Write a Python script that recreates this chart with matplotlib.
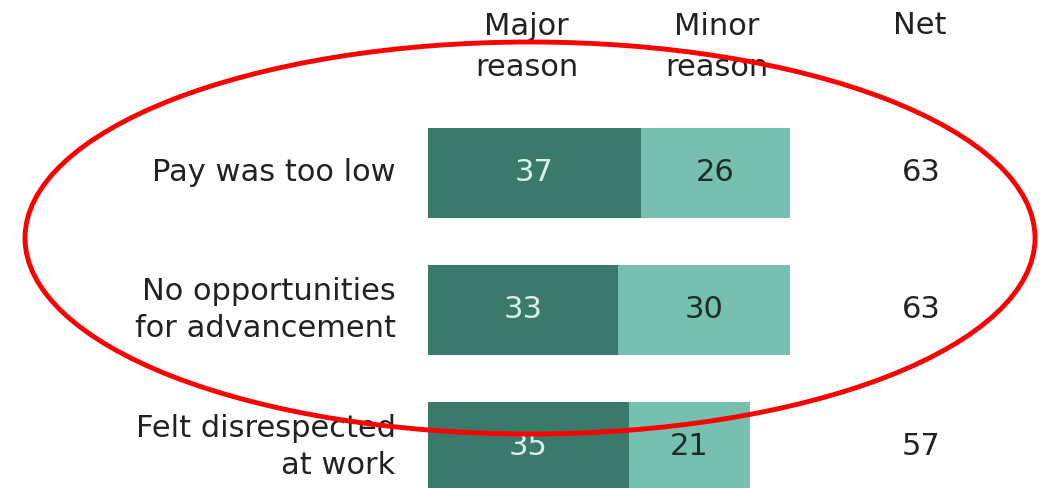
import matplotlib.pyplot as plt
from matplotlib.patches import Ellipse

# data
reasons = ["Pay was too low", "No opportunities\nfor advancement", "Felt disrespected\nat work"]
major = [37, 33, 35]
minor = [26, 30, 21]
net = [63, 63, 57]

DARK = "#3b7a6b"
LIGHT = "#77bfae"
FONT = "DejaVu Sans"
FS = 22

fig = plt.figure(figsize=(10.43, 4.88), dpi=100)
ax = fig.add_axes([0, 0, 1, 1])
ax.set_xlim(-74.4, 107.0)
ax.set_ylim(2.30, -1.263)
ax.axis("off")

ypos = list(range(len(reasons)))
ax.barh(ypos, major, height=0.66, color=DARK)
ax.barh(ypos, minor, left=major, height=0.66, color=LIGHT)

for i, (lab, a, b, n) in enumerate(zip(reasons, major, minor, net)):
    ax.text(a / 2, i, str(a), ha="center", va="center", fontsize=FS,
            color="#d8f2e8", family=FONT)
    ax.text(a + b / 2, i, str(b), ha="center", va="center", fontsize=FS,
            color="#1b2f29", family=FONT)
    ax.text(85.8, i, str(n), ha="center", va="center", fontsize=FS,
            color="#222222", family=FONT)
    ax.text(-5.6, i, lab, ha="right", va="center", fontsize=FS,
            color="#222222", family=FONT, linespacing=1.35)

ax.text(17.2, -0.92, "Major\nreason", ha="center", va="center", fontsize=FS,
        color="#222222", family=FONT, linespacing=1.5)
ax.text(50.3, -0.92, "Minor\nreason", ha="center", va="center", fontsize=FS,
        color="#222222", family=FONT, linespacing=1.5)
ax.text(85.6, -1.08, "Net", ha="center", va="center", fontsize=FS,
        color="#222222", family=FONT)

# red highlight ring
ring = Ellipse((530 / 1043, 1 - 238 / 488), 1010 / 1043, 392 / 488,
               transform=fig.transFigure, fill=False, edgecolor="#ff0000",
               linewidth=3.5, clip_on=False)
fig.add_artist(ring)

fig.savefig("out.png", dpi=100)
